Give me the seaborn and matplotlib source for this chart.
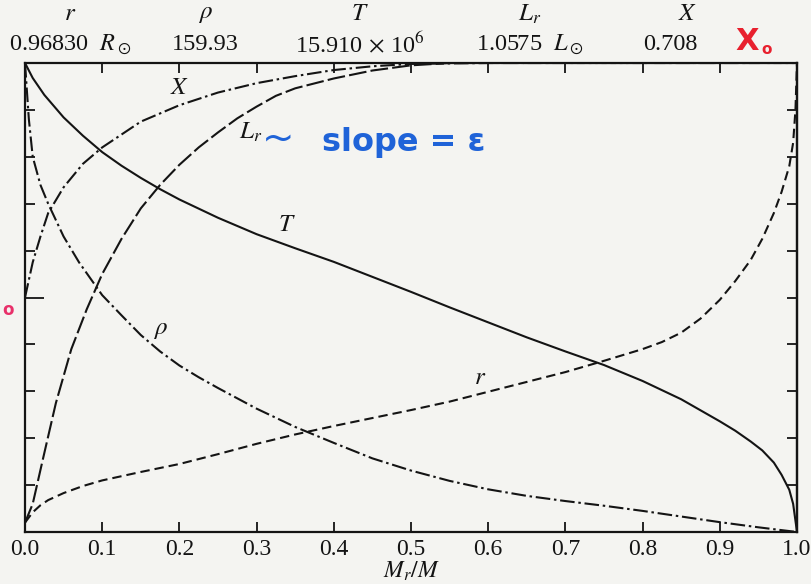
import numpy as np
import pandas as pd
import matplotlib
matplotlib.use("Agg")
import matplotlib.pyplot as plt
import seaborn as sns

# Normalized solar-interior profiles versus fractional mass M_r/M
r_x = [0.0, 0.01, 0.02, 0.03, 0.05, 0.075, 0.1, 0.15, 0.2, 0.25, 0.3, 0.35, 0.4, 0.45, 0.5,
       0.55, 0.6, 0.65, 0.7, 0.75, 0.8, 0.825, 0.85, 0.875, 0.9, 0.92, 0.94, 0.955, 0.97,
       0.98, 0.99, 0.995, 0.998, 1.0]
r_y = [0.02, 0.042, 0.057, 0.068, 0.083, 0.098, 0.11, 0.128, 0.145, 0.166, 0.188, 0.208, 0.226,
       0.243, 0.26, 0.278, 0.299, 0.32, 0.341, 0.365, 0.39, 0.405, 0.425, 0.455, 0.495, 0.535,
       0.58, 0.625, 0.68, 0.725, 0.78, 0.83, 0.9, 1.0]

rho_x = [0.0, 0.005, 0.01, 0.02, 0.03, 0.05, 0.07, 0.1, 0.125, 0.15, 0.175, 0.2, 0.225, 0.25,
         0.3, 0.35, 0.4, 0.45, 0.5, 0.55, 0.6, 0.65, 0.7, 0.75, 0.8, 0.85, 0.9, 0.95, 1.0]
rho_y = [1.0, 0.88, 0.8, 0.74, 0.7, 0.63, 0.575, 0.505, 0.462, 0.42, 0.385, 0.355, 0.33, 0.307,
         0.263, 0.224, 0.19, 0.157, 0.131, 0.109, 0.091, 0.077, 0.066, 0.056, 0.045, 0.033,
         0.021, 0.01, 0.0]

T_x = [0.0, 0.01, 0.025, 0.05, 0.075, 0.1, 0.125, 0.15, 0.175, 0.2, 0.25, 0.3, 0.35, 0.4,
       0.45, 0.5, 0.55, 0.6, 0.65, 0.7, 0.75, 0.8, 0.85, 0.9, 0.92, 0.94, 0.955, 0.97,
       0.98, 0.99, 0.995, 1.0]
T_y = [1.0, 0.968, 0.932, 0.884, 0.845, 0.81, 0.781, 0.755, 0.731, 0.709, 0.67, 0.635, 0.605,
       0.576, 0.544, 0.512, 0.479, 0.447, 0.415, 0.385, 0.356, 0.322, 0.283, 0.236, 0.216,
       0.193, 0.174, 0.148, 0.122, 0.09, 0.06, 0.0]

L_x = [0.0, 0.01, 0.023, 0.04, 0.06, 0.08, 0.1, 0.125, 0.15, 0.175, 0.2, 0.225, 0.25, 0.275,
       0.3, 0.325, 0.35, 0.4, 0.45, 0.5, 0.55, 0.6, 0.7, 0.8, 0.9, 1.0]
L_y = [0.02, 0.06, 0.154, 0.275, 0.39, 0.475, 0.55, 0.625, 0.69, 0.74, 0.783, 0.82, 0.852, 0.882,
       0.907, 0.93, 0.946, 0.967, 0.984, 0.995, 1.0, 1.0, 1.0, 1.0, 1.0, 1.0]

X_x = [0.0, 0.01, 0.02, 0.03, 0.05, 0.075, 0.1, 0.15, 0.2, 0.25, 0.3, 0.35, 0.4, 0.45,
       0.5, 0.6, 0.7, 0.8, 0.9, 1.0]
X_y = [0.5, 0.575, 0.63, 0.68, 0.735, 0.785, 0.82, 0.875, 0.91, 0.937, 0.957, 0.972, 0.985, 0.993,
       0.998, 1.0, 1.0, 1.0, 1.0, 1.0]

x_ticks = [0.0, 0.1, 0.2, 0.3, 0.4, 0.5, 0.6, 0.7, 0.8, 0.9, 1.0]
x_tick_labels = ["0.0", "0.1", "0.2", "0.3", "0.4", "0.5", "0.6", "0.7", "0.8", "0.9", "1.0"]

header_symbols = ["$r$", r"$\rho$", "$T$", "$L_r$", "$X$"]
header_values = [r"0.96830  $R_\odot$", "159.93", r"15.910$\,\times\,$10$^6$",
                 r"1.0575  $L_\odot$", "0.708"]
header_sym_pos = [70, 205, 360, 530, 688]
header_val_pos = [70, 205, 360, 530, 670]

paper = "#f4f4f1"
ink = "#141414"

sns.set_theme(style="ticks")
plt.rcParams["font.family"] = ["Liberation Serif", "DejaVu Serif"]
plt.rcParams["mathtext.fontset"] = "stix"

W, H = 812, 584
fig = plt.figure(figsize=(W / 100, H / 100), dpi=100, facecolor=paper)
ax = fig.add_axes([25 / W, 1 - 532 / H, 772 / W, 469 / H])
ax.set_facecolor(paper)

lw = 1.5
styles = {
    "r": (0, (4.5, 2.4)),
    "rho": (0, (7.0, 1.8, 1.2, 1.8)),
    "T": "-",
    "L": (0, (8.5, 2.0)),
    "X": (0, (7.0, 1.8, 1.2, 1.8)),
}
series = [("r", r_x, r_y), ("rho", rho_x, rho_y), ("T", T_x, T_y),
          ("L", L_x, L_y), ("X", X_x, X_y)]
for key, xs, ys in series:
    df = pd.DataFrame({"m": xs, "v": ys})
    sns.lineplot(data=df, x="m", y="v", ax=ax, color=ink, linewidth=lw,
                 linestyle=styles[key], estimator=None, sort=False)

ax.set_xlim(0, 1)
ax.set_ylim(0, 1)
ax.set_ylabel("")
ax.set_xlabel("$M_r/M$", fontsize=17, color=ink, labelpad=0)

ax.set_xticks(x_ticks)
ax.set_xticklabels(x_tick_labels, fontsize=17, color=ink)
ax.tick_params(axis="x", direction="in", top=True, bottom=True, length=7,
               width=1.3, color=ink, pad=5)

# left axis: long tick at 0.5, short ticks elsewhere
ax.set_yticks([0.5])
ax.set_yticks([0.1, 0.2, 0.3, 0.4, 0.6, 0.7, 0.8, 0.9], minor=True)
ax.tick_params(axis="y", which="major", direction="in", left=True, right=False,
               length=14, width=1.3, color=ink, labelleft=False)
ax.tick_params(axis="y", which="minor", direction="in", left=True, right=False,
               length=7, width=1.3, color=ink)
sec = ax.secondary_yaxis("right")
sec.set_yticks([0.1, 0.2, 0.3, 0.4, 0.5, 0.6, 0.7, 0.8, 0.9])
sec.tick_params(direction="in", length=7, width=1.3, color=ink, labelright=False)
sec.spines["right"].set_linewidth(1.6)
sec.spines["right"].set_color(ink)

for s in ax.spines.values():
    s.set_linewidth(1.6)
    s.set_color(ink)
    s.set_visible(True)

# curve labels
lab = dict(fontsize=18, color=ink, ha="center", va="center")
ax.text(0.20, 0.947, "$X$", **lab)
ax.text(0.292, 0.853, "$L_r$", **lab)
ax.text(0.339, 0.655, "$T$", **lab)
ax.text(0.175, 0.431, r"$\rho$", **lab)
ax.text(0.589, 0.328, "$r$", **lab)

# central values used for normalization
for sym, val, ps, pv in zip(header_symbols, header_values, header_sym_pos, header_val_pos):
    fig.text(ps / W, 1 - 14 / H, sym, fontsize=18, color=ink, ha="center", va="center")
    fig.text(pv / W, 1 - 45 / H, val, fontsize=17.5, color=ink, ha="center", va="center")

# pen notes
hand = ["DejaVu Sans"]
red = "#e8202e"
blue = "#1f63d8"
fig.text(735 / W, 1 - 41 / H, "X", fontsize=22, color=red, ha="left", va="center",
         family=hand, fontweight="bold")
fig.text(761 / W, 1 - 49 / H, "o", fontsize=11, color=red, ha="left", va="center",
         family=hand, fontweight="bold")
fig.text(2 / W, 1 - 310 / H, "o", fontsize=12, color="#e8306a", ha="left", va="center",
         family=hand, fontweight="bold")
fig.text(262 / W, 1 - 139 / H, "~", fontsize=28, color=blue, ha="left", va="center",
         family=hand)
fig.text(322 / W, 1 - 143 / H, "slope = ε", fontsize=23, color=blue, ha="left",
         va="center", family=hand, fontweight="bold")

fig.savefig("out.png", dpi=100, facecolor=paper)
